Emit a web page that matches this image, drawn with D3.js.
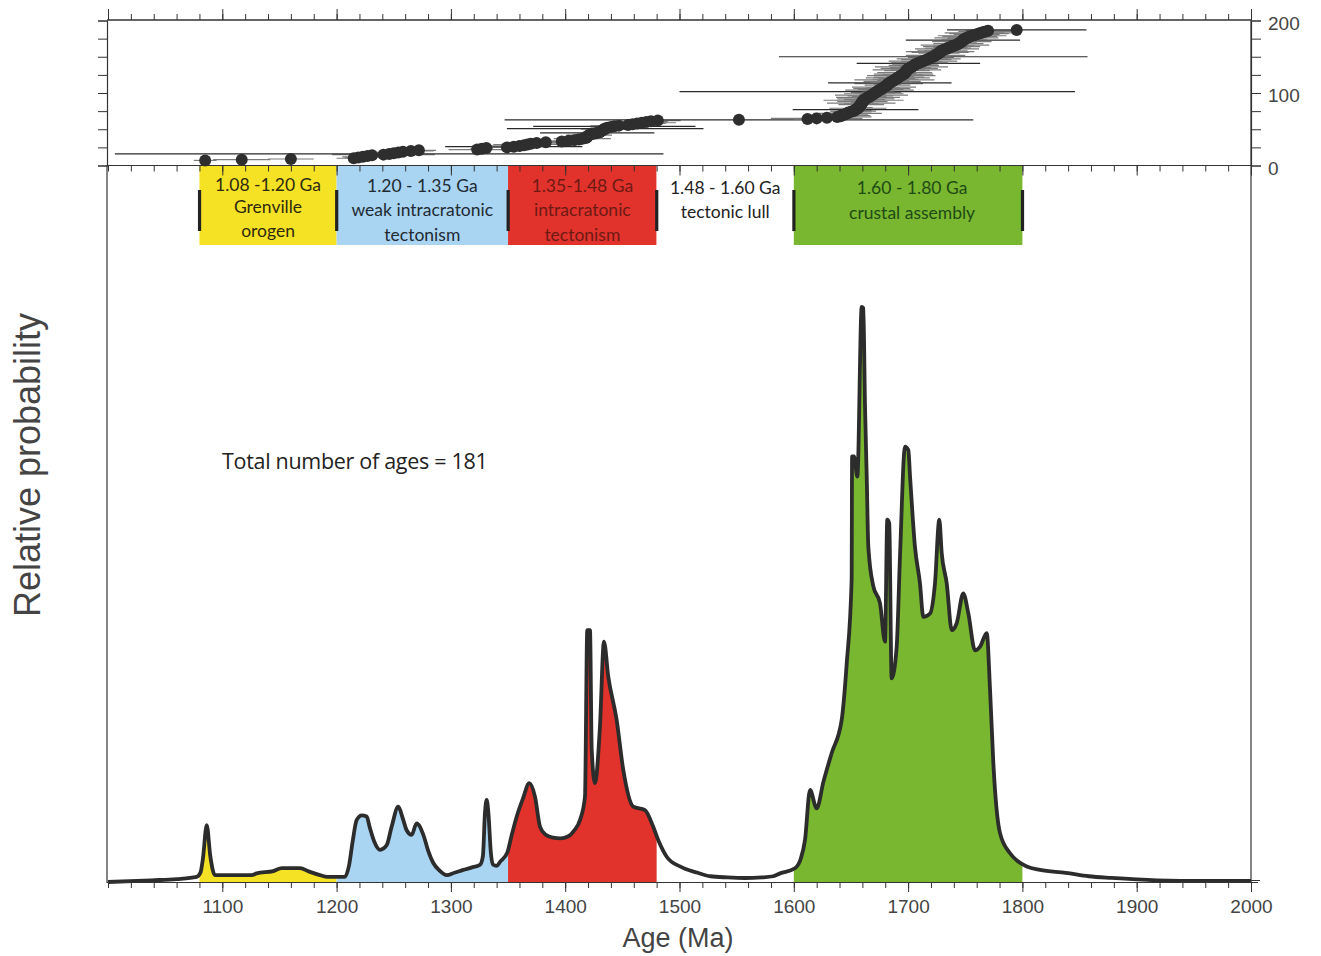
<!DOCTYPE html>
<html><head><meta charset="utf-8">
<script src="https://cdn.jsdelivr.net/npm/d3@7"></script>
<style>body{margin:0;background:#fff;} svg{display:block}</style>
</head><body>
<svg id="chart" width="1321" height="956"></svg>
<script>
// ---------------- DATA ----------------
const curveAges = [1000,1038,1060,1077.6,1081,1083,1086.4,1089.5,1093.6,1125.7,1130,1144.6,1152,1168,1176,1185.5,1192,1207.3,
 1211,1214,1217.6,1222,1226.3,1229,1233,1238,1243.8,1248,1254,1258,1261.3,1265.7,1270,1275.9,1280,1284.6,1290,1296.3,1303,1310.8,
 1318,1325.5,1328,1329.8,1331.3,1332.8,1335,1337,1340,1343,1349.5,1353,1357.6,1363,1368.6,1373.6,1378,1383,1389.3,1396,1402.4,
 1408,1413,1417.3,1419.3,1421.7,1423.2,1426,1430.4,1433.9,1437.7,1445,1450.8,1459.6,1469.8,1477,1482,1488.8,1500.4,1516,1527,
 1542,1557,1572,1582,1588,1601,1606,1609.8,1614.2,1620,1626,1633.1,1641.9,1646.3,1650.6,1651,1652.7,1655.6,1659.4,1660.8,1662.3,
 1663.8,1665.2,1669.6,1675.4,1679.8,1681.8,1683.5,1685.6,1690,1692.9,1697.3,1700.2,1701.7,1706,1710.4,1713.3,1719.2,1723.5,1727.3,
 1729.4,1733.8,1738.2,1742.5,1748.3,1752.7,1758.5,1762.9,1768.8,1771.7,1774.6,1780.4,1789.2,1796,1803.8,1815.4,1838,1858,1878,
 1918,1958,2000];
const curveValues = [0,0.3,0.5,0.9,1.7,4.0,9.9,4.5,1.2,1.2,1.5,1.9,2.4,2.4,1.8,1.2,0.9,0.9,
 3.0,7.0,10.8,11.6,11.4,9.5,7.0,5.6,6.4,9.5,13.1,11.0,9.0,8.2,10.2,8.2,5.5,3.3,2.0,1.2,1.6,2.1,
 2.5,3.0,4.5,12.0,14.3,12.0,5.0,3.0,2.8,3.5,5.2,8.0,11.4,14.5,17.2,14.8,9.6,8.2,7.7,7.6,7.9,
 9.0,10.8,14.8,43.8,43.8,23.0,17.2,27.0,41.8,35.7,28.2,19.5,13.1,12.5,9.6,7.0,4.4,2.7,1.6,1.0,
 0.8,0.7,0.8,1.0,1.5,2.4,4.0,7.3,16.0,12.8,17.5,22.4,28.2,38.0,52.5,74.0,74.0,70.5,100,99.8,82.7,
 70.5,58.3,51.4,48.5,41.8,63.0,62.4,35.4,40.9,56.6,75.7,75.1,70.5,58.3,51.9,46.1,46.7,51.9,63.0,
 57.2,51.9,43.8,45.0,50.2,46.7,40.3,40.9,43.3,33.4,20.6,8.5,5.0,3.6,2.7,2.1,1.6,1.0,0.7,
 0.3,0.2,0.2];

// individual ages (Ma), sorted, and their 2-sigma errors (Ma)
const zirconAges = [1085,1117,1160, 1215,1219,1223,1227,1231, 1241,1246,1250,1254,1258, 1265,1272, 1323,1327,1331,
 1349,1355,1360,1364,1367,1370,1375,1383, 1397,1403,1408,1412,1415,1418,
 1419,1419,1420,1421,1423,1426,1428,1430,1431,1432,1433,1434,1435,1437,1440,1443,1447,
 1455,1459,1463,1467,1471,1475,1481, 1552, 1612,1620,1629,1638, 1641,1642,1644,1645,1647,1648,1650,
 1652,1653,1654,1655,1656,1657,1657,1658,1658,1659,1659,1659,1660,1660,1661,1661,1662,1663,1664,1665,1666,1667,1668,1669,1670,1671,1672,1673,1674,1675,1676,1677,
 1678,1679,1680,1681,1682,1682,1683,1684,1685,1686,1687,1688,1689,1690,1691,1692,1693,1694,1695,1696,1697,1697,1698,1698,1699,1699,1700,1701,1702,1703,1704,1705,
 1706,1707,1709,1710,1712,1713,1715,1716,1718,1719,1720,1722,1723,1724,1725,1726,1727,1728,1728,1729,1730,1732,1734,
 1735,1737,1738,1740,1741,1743,1744,1745,1746,1747,1748,1748,1749,1750,1751,1753,1754,1756,1758,1760,1762,1764,1766,1768,1770,
 1795];
const zirconErrors = [10,25,20, 15,12,18,10,14, 45,240,12,20,15, 20,15, 25,10,5,
 20,60,25,15,30,12,20,25, 15,20,12,10,25,15,
 3,2,8,20,15,10,50,12,8,5,15,20,86,10,18,71,25,
 15,20,25,30,18,15,20, 205, 12,40,20,30, 15,25,10,20,30,12,18,
 20,15,55,8,25,12,3,4,3,20,15,30,10,22,12,35,18,25,10,28,15,20,32,12,26,18,22,173,14,30,20,25,
 15,28,4,3,20,12,30,54,18,25,14,35,20,16,28,22,12,30,18,26,10,24,8,5,20,30,15,25,18,32,12,22,
 20,15,54,25,18,30,12,22,28,16,20,135,14,26,8,6,18,25,30,15,22,12,28,
 20,15,25,18,30,10,22,8,14,26,12,50,20,16,28,18,24,30,14,20,26,32,18,24,20,
 61];
const rankOffset = 7;   // plotted cumulative number of the first age

const periodStarts = [1080, 1200, 1350, 1480, 1600];
const periodEnds   = [1200, 1350, 1480, 1600, 1800];
const periodLabels = [
  ["1.08 -1.20 Ga", "Grenville", "orogen"],
  ["1.20 - 1.35 Ga", "weak intracratonic", "tectonism"],
  ["1.35-1.48 Ga", "intracratonic", "tectonism"],
  ["1.48 - 1.60 Ga", "tectonic lull"],
  ["1.60 - 1.80 Ga", "crustal assembly"]
];
const xMajorTicks = [1100,1200,1300,1400,1500,1600,1700,1800,1900,2000];
const xMinorTicks = d3.range(1000, 2001, 20);
const rankTicks = [0,25,50,75,100,125,150,175,200];
const rankLabels = [0,100,200];
const totalAges = 181;

// ---------------- STYLE ----------------
const fillColors = ["#f6e224", "#a9d5f2", "#e1322c", "#ffffff", "#78b72f"];
const textColors = ["#2e2a10", "#1f2a33", "#6e1a14", "#222222", "#1f4a16"];
const boxFont = "Lato, 'Open Sans', sans-serif";
const lineFont = "'Open Sans', 'Noto Sans', sans-serif";
const axisFont = "'Liberation Sans', Arial, sans-serif";

const svg = d3.select("#chart");
const x = d3.scaleLinear().domain([1000, 2000]).range([108, 1251]);
const yTop = d3.scaleLinear().domain([0, 200]).range([165.5, 20.5]);
const yBot = d3.scaleLinear().domain([0, 100]).range([882, 307]);

const curve = curveAges.map((a, i) => ({age: a, v: curveValues[i]}));

// ---------- clip paths ----------
const defs = svg.append("defs");
periodStarts.forEach((s, i) => {
  defs.append("clipPath").attr("id", "clip" + i)
    .append("rect").attr("x", x(s)).attr("y", 0)
    .attr("width", x(periodEnds[i]) - x(s)).attr("height", 956);
});
defs.append("clipPath").attr("id", "clipTop")
  .append("rect").attr("x", x(1000)).attr("y", 0).attr("width", x(2000) - x(1000)).attr("height", 200);

// ---------- bottom panel: probability curve ----------
const area = d3.area().x(d => x(d.age)).y0(yBot(0)).y1(d => yBot(d.v)).curve(d3.curveMonotoneX);
const line = d3.line().x(d => x(d.age)).y(d => yBot(d.v)).curve(d3.curveMonotoneX);
periodStarts.forEach((s, i) => {
  if (fillColors[i] === "#ffffff") return;
  svg.append("path").datum(curve).attr("d", area)
    .attr("fill", fillColors[i]).attr("clip-path", `url(#clip${i})`);
});
svg.append("path").datum(curve).attr("d", line)
  .attr("fill", "none").attr("stroke", "#2c2c2c").attr("stroke-width", 3.8)
  .attr("stroke-linejoin", "round");

// frame lines of lower panel
svg.append("line").attr("x1", 107).attr("x2", 107).attr("y1", 165).attr("y2", 883)
  .attr("stroke", "#333").attr("stroke-width", 1.2);
svg.append("line").attr("x1", 1251).attr("x2", 1251).attr("y1", 20).attr("y2", 883)
  .attr("stroke", "#333").attr("stroke-width", 1.2);

// bottom axis
const gMinor = svg.append("g").attr("transform", `translate(0,${yBot(0)})`)
  .call(d3.axisBottom(x).tickValues(xMinorTicks).tickSize(6).tickFormat(""));
const gMajor = svg.append("g").attr("transform", `translate(0,${yBot(0)})`)
  .call(d3.axisBottom(x).tickValues(xMajorTicks).tickSize(10).tickPadding(8).tickFormat(d3.format("d")));
[gMinor, gMajor].forEach(g => {
  g.select(".domain").attr("d", `M107,0.5H1258`).attr("stroke", "#333").attr("stroke-width", 1.2);
  g.selectAll(".tick line").attr("stroke", "#333");
});
gMajor.selectAll(".tick text").attr("font-family", axisFont).attr("font-size", 19).attr("fill", "#444");
svg.append("g").attr("transform", `translate(1251,0)`)
  .call(d3.axisRight(yBot).tickValues([0]).tickSize(9).tickFormat(""))
  .call(g => g.select(".domain").remove())
  .call(g => g.selectAll("line").attr("stroke", "#333").attr("transform", "translate(0,-2)"));

// ---------- period boxes ----------
periodStarts.forEach((s, i) => {
  svg.append("rect").attr("x", x(s)).attr("y", 166).attr("width", x(periodEnds[i]) - x(s)).attr("height", 79)
    .attr("fill", fillColors[i]);
});
const barAges = periodStarts.concat([periodEnds[periodEnds.length - 1]]);
svg.selectAll("rect.bar").data(barAges).enter().append("rect").attr("class", "bar")
  .attr("x", d => x(d) - 1.5).attr("y", 190).attr("width", 3.2).attr("height", 41).attr("fill", "#222");
const labelRows = [[185, 207, 231], [186, 210, 235], [186, 210, 235], [188, 212], [188, 213]];
periodLabels.forEach((lines, i) => {
  const cx = (x(periodStarts[i]) + x(periodEnds[i])) / 2;
  lines.forEach((t, j) => {
    svg.append("text").attr("x", cx + (i === 4 ? 4 : 0)).attr("y", labelRows[i][j]).attr("dy", "0.36em")
      .attr("text-anchor", "middle").attr("font-family", boxFont).attr("font-size", 17.5)
      .attr("fill", textColors[i]).text(t);
  });
});

// ---------- top panel ----------
const tMinor = svg.append("g").attr("transform", `translate(0,${yTop(200) - 0.5})`)
  .call(d3.axisTop(x).tickValues(xMinorTicks).tickSize(6).tickFormat(""));
const tMajor = svg.append("g").attr("transform", `translate(0,${yTop(200) - 0.5})`)
  .call(d3.axisTop(x).tickValues(xMajorTicks.concat([1000])).tickSize(11).tickFormat(""));
const bMinor = svg.append("g").attr("transform", `translate(0,${yTop(0)})`)
  .call(d3.axisBottom(x).tickValues(xMinorTicks).tickSize(6).tickFormat(""));
const bMajor = svg.append("g").attr("transform", `translate(0,${yTop(0)})`)
  .call(d3.axisBottom(x).tickValues(xMajorTicks).tickSize(10).tickFormat(""));
[tMinor, tMajor, bMinor, bMajor].forEach(g => {
  g.select(".domain").attr("d", `M107,0H1251`).attr("stroke", "#333").attr("stroke-width", 1.2);
  g.selectAll(".tick line").attr("stroke", "#333");
});
svg.append("g").attr("transform", `translate(107,0)`)
  .call(d3.axisLeft(yTop).tickValues(rankTicks).tickSize(9).tickFormat(""))
  .call(g => g.select(".domain").attr("stroke", "#333").attr("stroke-width", 1.2))
  .call(g => g.selectAll(".tick line").attr("stroke", "#333"));
const gR = svg.append("g").attr("transform", `translate(1251,0)`)
  .call(d3.axisRight(yTop).tickValues(rankTicks).tickSize(10).tickFormat(""));
gR.select(".domain").attr("stroke", "#333").attr("stroke-width", 1.2);
gR.selectAll(".tick line").attr("stroke", "#333");
const gRL = svg.append("g").attr("transform", `translate(1251,0)`)
  .call(d3.axisRight(yTop).tickValues(rankLabels).tickSize(0).tickPadding(17).tickFormat(d3.format("d")));
gRL.select(".domain").remove();
gRL.selectAll(".tick text").attr("font-family", axisFont).attr("font-size", 19).attr("fill", "#444").attr("dy", "0.45em");

// error bars and ages
const zData = zirconAges.map((a, i) => ({age: a, err: zirconErrors[i], rank: i + rankOffset}));
const eb = svg.append("g").attr("clip-path", "url(#clipTop)");
eb.selectAll("line").data(zData).enter().append("line")
  .attr("x1", d => x(d.age - d.err)).attr("x2", d => x(d.age + d.err))
  .attr("y1", d => yTop(d.rank)).attr("y2", d => yTop(d.rank))
  .attr("stroke", d => d.err > 45 ? "#2a2a2a" : "#7a7a7a").attr("stroke-width", 1.2);
svg.append("g").selectAll("circle").data(zData).enter().append("circle")
  .attr("cx", d => x(d.age)).attr("cy", d => yTop(d.rank)).attr("r", 6)
  .attr("fill", "#2e2e2e");

// ---------- texts ----------
svg.append("text").attr("x", 222).attr("y", 461).attr("dy", "0.36em")
  .attr("font-family", lineFont).attr("font-size", 21.5).attr("letter-spacing", -0.3).attr("fill", "#222")
  .text(`Total number of ages = ${totalAges}`);
svg.append("text").attr("x", 678).attr("y", 947).attr("text-anchor", "middle")
  .attr("font-family", axisFont).attr("font-size", 27).attr("fill", "#444").text("Age (Ma)");
svg.append("text").attr("transform", "translate(40,465) rotate(-90)").attr("text-anchor", "middle")
  .attr("font-family", axisFont).attr("font-size", 36).attr("fill", "#444").text("Relative probability");
</script>
</body></html>
